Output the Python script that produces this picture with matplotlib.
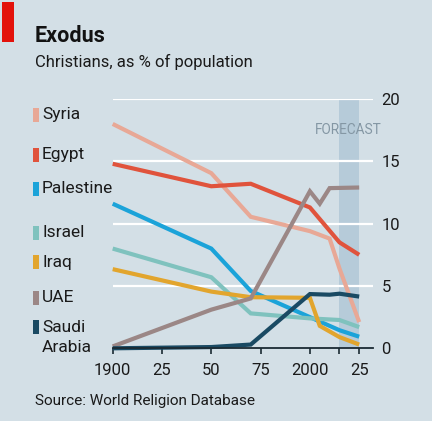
import matplotlib
matplotlib.use("Agg")
import matplotlib.pyplot as plt
from matplotlib import font_manager

# ---------------- data ----------------
syria_years = [1900, 1950, 1970, 2000, 2010, 2015, 2025]
syria_vals = [18.0, 14.05, 10.55, 9.4, 8.8, 6.4, 2.1]

egypt_years = [1900, 1950, 1970, 2000, 2015, 2025]
egypt_vals = [14.8, 13.0, 13.2, 11.3, 8.5, 7.5]

palestine_years = [1900, 1950, 1970, 2000, 2015, 2025]
palestine_vals = [11.6, 8.0, 4.6, 2.5, 1.45, 0.93]

israel_years = [1900, 1950, 1970, 2000, 2015, 2025]
israel_vals = [8.0, 5.7, 2.8, 2.4, 2.27, 1.7]

iraq_years = [1900, 1950, 1970, 2000, 2005, 2015, 2025]
iraq_vals = [6.35, 4.55, 4.1, 4.05, 1.8, 0.9, 0.3]

uae_years = [1900, 1950, 1970, 2000, 2005, 2010, 2025]
uae_vals = [0.15, 3.1, 4.0, 12.6, 11.6, 12.85, 12.9]

saudi_years = [1900, 1950, 1970, 2000, 2010, 2015, 2025]
saudi_vals = [0.0, 0.1, 0.3, 4.35, 4.3, 4.38, 4.15]

legend_labels = ["Syria", "Egypt", "Palestine", "Israel", "Iraq", "UAE", "Saudi\nArabia"]
xtick_pos = [1900, 1925, 1950, 1975, 2000, 2025]
xtick_labels = ["1900", "25", "50", "75", "2000", "25"]
ytick_pos = [0, 5, 10, 15, 20]
forecast_span = (2015, 2025)

# ---------------- style ----------------
names = {f.name for f in font_manager.fontManager.ttflist}
FONT = "Liberation Sans Narrow" if "Liberation Sans Narrow" in names else "Roboto"

BG = "#d3dfe6"
BAND = "#b6cbd9"
DARK = "#1b2a33"
colors = ["#e8a896", "#e0533c", "#1ba3d9", "#7fc2be", "#e2a52d", "#9b8786", "#1a4a63"]

W, H = 432, 421
fig = plt.figure(figsize=(W / 100, H / 100), dpi=100, facecolor=BG)

def fx(px):
    return px / W

def fy(py):
    return 1 - py / H

ax = fig.add_axes([fx(112.7), 72.7 / H, (373 - 112.7) / W, (348.3 - 99) / H])
ax.set_facecolor(BG)
ax.set_xlim(1900, 2032)
ax.set_ylim(0, 20)

ax.axvspan(*forecast_span, ymin=0, ymax=1, color=BAND, lw=0, zorder=0)
for y in ytick_pos[1:]:
    ax.axhline(y, color="white", lw=1.6, zorder=1)

series = [
    (syria_years, syria_vals),
    (egypt_years, egypt_vals),
    (palestine_years, palestine_vals),
    (israel_years, israel_vals),
    (iraq_years, iraq_vals),
    (uae_years, uae_vals),
    (saudi_years, saudi_vals),
]
for (xs, ys), c in zip(series, colors):
    ax.plot(xs, ys, color=c, lw=3.0, solid_capstyle="butt", solid_joinstyle="miter",
            zorder=3, clip_on=False)

for s in ["top", "right", "left"]:
    ax.spines[s].set_visible(False)
ax.spines["bottom"].set_color(DARK)
ax.spines["bottom"].set_linewidth(1.3)
ax.spines["bottom"].set_zorder(4)

ax.set_xticks(xtick_pos)
ax.set_xticklabels(xtick_labels)
ax.set_xticks([forecast_span[0]], minor=True)
ax.tick_params(axis="x", which="both", direction="out", length=4, width=1.2, color=DARK,
               pad=6.5, labelsize=12, labelcolor="#1a1a1a")
for t in ax.get_xticklabels():
    t.set_fontfamily(FONT)

ax.yaxis.tick_right()
ax.set_yticks(ytick_pos)
ax.set_yticklabels([str(v) for v in ytick_pos])
ax.tick_params(axis="y", length=0, pad=6, labelsize=12, labelcolor="#1a1a1a")
for t in ax.get_yticklabels():
    t.set_fontfamily(FONT)

fig.text(fx(382), fy(130), "FORECAST", ha="right", va="center", fontsize=9.8,
         color="#8497a4", fontfamily=FONT)

# title block
fig.patches.append(plt.Rectangle((fx(2), fy(42)), fx(12), 40 / H, transform=fig.transFigure,
                                 color="#e3120b", lw=0))
fig.text(fx(35), fy(42), "Exodus", ha="left", va="baseline", fontsize=15.5,
         fontweight="bold", color="#121212", fontfamily=FONT)
fig.text(fx(35), fy(67), "Christians, as % of population", ha="left", va="baseline",
         fontsize=12, color="#1a1a1a", fontfamily=FONT)
fig.text(fx(35), fy(405), "Source: World Religion Database", ha="left", va="baseline",
         fontsize=11, color="#1a1a1a", fontfamily=FONT)

# legend
legend_y = [115, 155, 189, 233, 262, 298, 327]
line_step = 21
for lab, c, py in zip(legend_labels, colors, legend_y):
    fig.patches.append(plt.Rectangle((fx(33), fy(py + 7)), fx(6), 14 / H,
                                     transform=fig.transFigure, color=c, lw=0))
    for i, part in enumerate(lab.split("\n")):
        fig.text(fx(42), fy(py + i * line_step), part, ha="left", va="center",
                 fontsize=12.5, color="#1a1a1a", fontfamily=FONT)

fig.savefig("out.png", dpi=100, facecolor=BG)
